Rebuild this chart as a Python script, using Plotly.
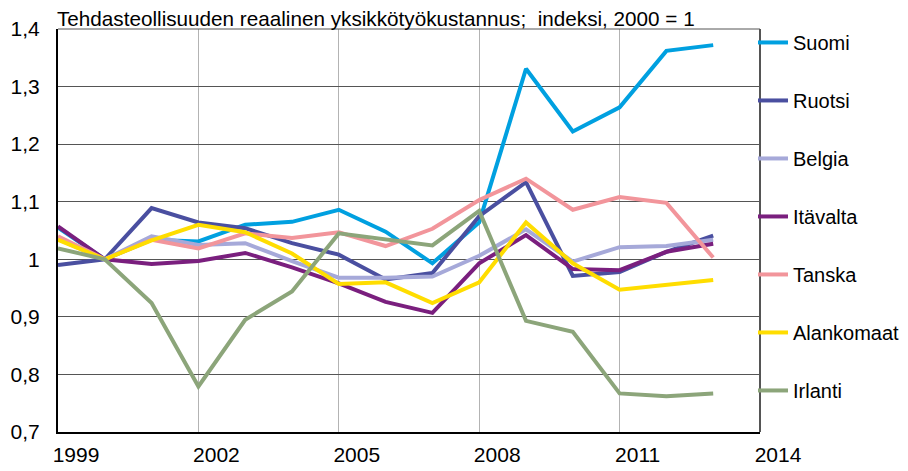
import plotly.graph_objects as go

years = list(range(1999, 2014))
suomi = [1.055, 1.0, 1.034, 1.031, 1.060, 1.065, 1.086, 1.048, 0.993, 1.064, 1.331, 1.222, 1.264, 1.362, 1.372]
ruotsi = [0.990, 1.0, 1.089, 1.064, 1.054, 1.028, 1.008, 0.965, 0.976, 1.075, 1.134, 0.971, 0.978, 1.013, 1.041]
belgia = [1.035, 1.0, 1.040, 1.025, 1.028, 0.997, 0.968, 0.968, 0.970, 1.006, 1.052, 0.996, 1.021, 1.023, 1.034]
itavalta = [1.057, 1.0, 0.992, 0.997, 1.011, 0.986, 0.958, 0.926, 0.907, 0.993, 1.042, 0.983, 0.981, 1.013, 1.027]
tanska = [1.040, 1.0, 1.034, 1.019, 1.045, 1.037, 1.047, 1.023, 1.053, 1.103, 1.140, 1.086, 1.108, 1.098, 1.003]
alankomaat = [1.034, 1.0, 1.033, 1.060, 1.047, 1.010, 0.957, 0.960, 0.924, 0.960, 1.064, 0.993, 0.947, 0.955, 0.964]
irlanti = [1.019, 1.0, 0.924, 0.779, 0.895, 0.944, 1.045, 1.035, 1.024, 1.084, 0.893, 0.874, 0.767, 0.762, 0.767]

series_names = ["Suomi", "Ruotsi", "Belgia", "Itävalta", "Tanska", "Alankomaat", "Irlanti"]
series_values = [suomi, ruotsi, belgia, itavalta, tanska, alankomaat, irlanti]
colors = ["#00A0E0", "#4A4FA0", "#A6A9D9", "#7A1F7E", "#F2959B", "#FFDD00", "#8CA57A"]

x_tickvals = [1999, 2002, 2005, 2008, 2011, 2014]
x_ticktext = ["1999", "2002", "2005", "2008", "2011", "2014"]
y_tickvals = [0.7, 0.8, 0.9, 1.0, 1.1, 1.2, 1.3, 1.4]
y_ticktext = ["0,7", "0,8", "0,9", "1", "1,1", "1,2", "1,3", "1,4"]

title_text = "Tehdasteollisuuden reaalinen yksikkötyökustannus;  indeksi, 2000 = 1"

FONT = "Liberation Sans, Arial, sans-serif"

fig = go.Figure()
for name, vals, col in zip(series_names, series_values, colors):
    fig.add_trace(go.Scatter(
        x=years, y=vals, name=name, mode="lines",
        line=dict(color=col, width=4),
        legendgroup=name,
    ))

# page body has an 8px margin, so the figure is 8px smaller and offset
fig.update_layout(
    width=900, height=463,
    margin=dict(l=50, r=148, t=21, b=39, autoexpand=False),
    paper_bgcolor="white", plot_bgcolor="white",
    font=dict(family=FONT, size=21, color="#000000"),
    showlegend=True,
    legend=dict(
        x=0.99, xanchor="left", y=1.015, yanchor="top",
        font=dict(family=FONT, size=20, color="#000000"),
        tracegroupgap=29,
        bgcolor="rgba(0,0,0,0)",
        borderwidth=0,
        maxheight=460,
    ),
    annotations=[dict(
        text=title_text, x=0, xref="paper", xanchor="left",
        y=1, yref="paper", yanchor="bottom", yshift=-3, xshift=-3,
        showarrow=False, font=dict(family=FONT, size=20.7, color="#000000"),
    )],
)

fig.update_xaxes(
    range=[1999, 2014], tickvals=x_tickvals, ticktext=x_ticktext,
    showgrid=True, gridcolor="#B3B3B3", gridwidth=1,
    showline=True, linecolor="#000000", linewidth=2, mirror=False,
    ticks="", ticklabelshift=18, ticklabelstandoff=3,
    zeroline=False, automargin=False,
)
fig.update_yaxes(
    range=[0.7, 1.4], tickvals=y_tickvals, ticktext=y_ticktext,
    showgrid=True, gridcolor="#555555", gridwidth=1,
    showline=True, linecolor="#000000", linewidth=2, mirror=False,
    ticks="", ticklabelstandoff=12,
    zeroline=False, automargin=False,
)
# right and top border of plot frame
fig.add_shape(type="line", xref="paper", yref="paper", x0=1, x1=1, y0=0, y1=1,
              line=dict(color="#555555", width=2))
fig.add_shape(type="line", xref="paper", yref="paper", x0=0, x1=1, y0=1, y1=1,
              line=dict(color="#555555", width=1))

fig.write_html("out.html")
